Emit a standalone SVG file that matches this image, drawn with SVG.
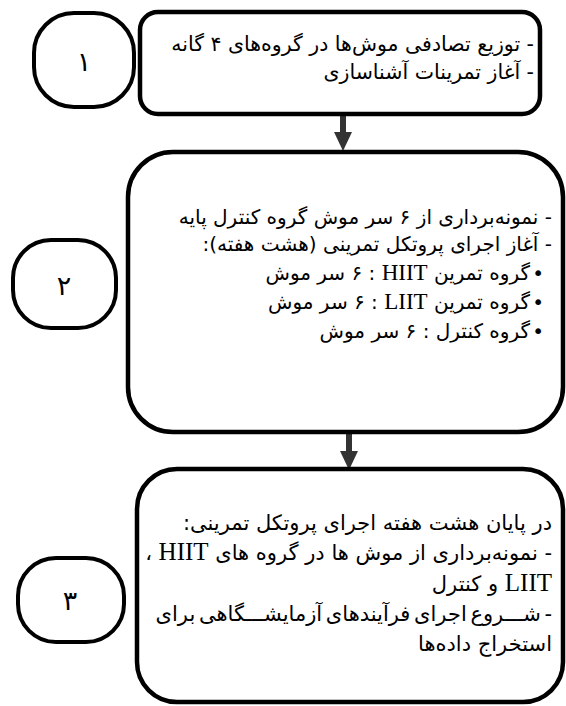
<svg xmlns="http://www.w3.org/2000/svg" width="566" height="706" viewBox="0 0 566 706">
<style>
.box{fill:#fff;stroke:#000;stroke-width:4.5}
.num{fill:#fff;stroke:#000;stroke-width:4}
.t{font-family:"DejaVu Sans",sans-serif;fill:#000;direction:rtl;text-anchor:start}
.s1{font-size:20.5px}
.s2{font-size:20px}
.s3{font-size:21px}
.n{font-family:"DejaVu Sans",sans-serif;font-size:27px;fill:#000;text-anchor:middle;direction:rtl}
.lat{font-family:"Liberation Serif",serif;font-size:23px}
.lat3{font-family:"Liberation Serif",serif;font-size:25px}
.shaft{stroke:#333;stroke-width:6;fill:none}
.head{fill:#333}
</style>
<rect width="566" height="706" fill="#fff"/>
<g id="connectors">
<line class="shaft" x1="343" y1="115" x2="343" y2="134"/>
<polygon class="head" points="334,132 352,132 343,151"/>
<line class="shaft" x1="349" y1="433" x2="349" y2="453"/>
<polygon class="head" points="340,451 358,451 349,470"/>
</g>
<g id="step1">
<rect class="num" x="34" y="13" width="100" height="94" rx="40"/>
<text class="n" x="84" y="71">۱</text>
</g>
<g id="box1">
<rect class="box" x="140" y="12" width="400" height="102" rx="18"/>
<text class="t s1" x="534" y="51">- توزیع تصادفی موش‌ها در گروه‌های ۴ گانه</text>
<text class="t s1" x="534" y="79">- آغاز تمرینات آشناسازی</text>
</g>
<g id="step2">
<rect class="num" x="13" y="240" width="103" height="88" rx="38"/>
<text class="n" x="64" y="295">۲</text>
</g>
<g id="box2">
<rect class="box" x="128" y="152" width="435" height="280" rx="45"/>
<text class="t s2" x="552" y="224">- نمونه‌برداری از ۶ سر موش گروه کنترل پایه</text>
<text class="t s2" x="552" y="251">- آغاز اجرای پروتکل تمرینی (هشت هفته):</text>
<text class="t s2" x="544" y="280">•</text>
<text class="t s2" x="530" y="280">گروه تمرین <tspan class="lat">HIIT</tspan>&#x200F; : ۶ سر موش</text>
<text class="t s2" x="544" y="309">•</text>
<text class="t s2" x="530" y="309">گروه تمرین <tspan class="lat">LIIT</tspan>&#x200F; : ۶ سر موش</text>
<text class="t s2" x="544" y="338">•</text>
<text class="t s2" x="530" y="338">گروه کنترل : ۶ سر موش</text>
</g>
<g id="step3">
<rect class="num" x="18" y="558" width="106" height="84" rx="38"/>
<text class="n" x="70" y="610">۳</text>
</g>
<g id="box3">
<rect class="box" x="137" y="469" width="426" height="233" rx="40"/>
<text class="t s3" x="552" y="530">در پایان هشت هفته اجرای پروتکل تمرینی:</text>
<text class="t s3" x="552" y="560">- نمونه‌برداری از موش ها در گروه های <tspan class="lat3">HIIT</tspan> ،</text>
<text class="t s3" x="552" y="591"><tspan class="lat3">LIIT</tspan> و کنترل</text>
<text class="t s3" x="552" y="621" style="word-spacing:-3px">- شـــروع اجرای فرآیندهای آزمایشـــگاهی برای</text>
<text class="t s3" x="552" y="651">استخراج داده‌ها</text>
</g>
</svg>
